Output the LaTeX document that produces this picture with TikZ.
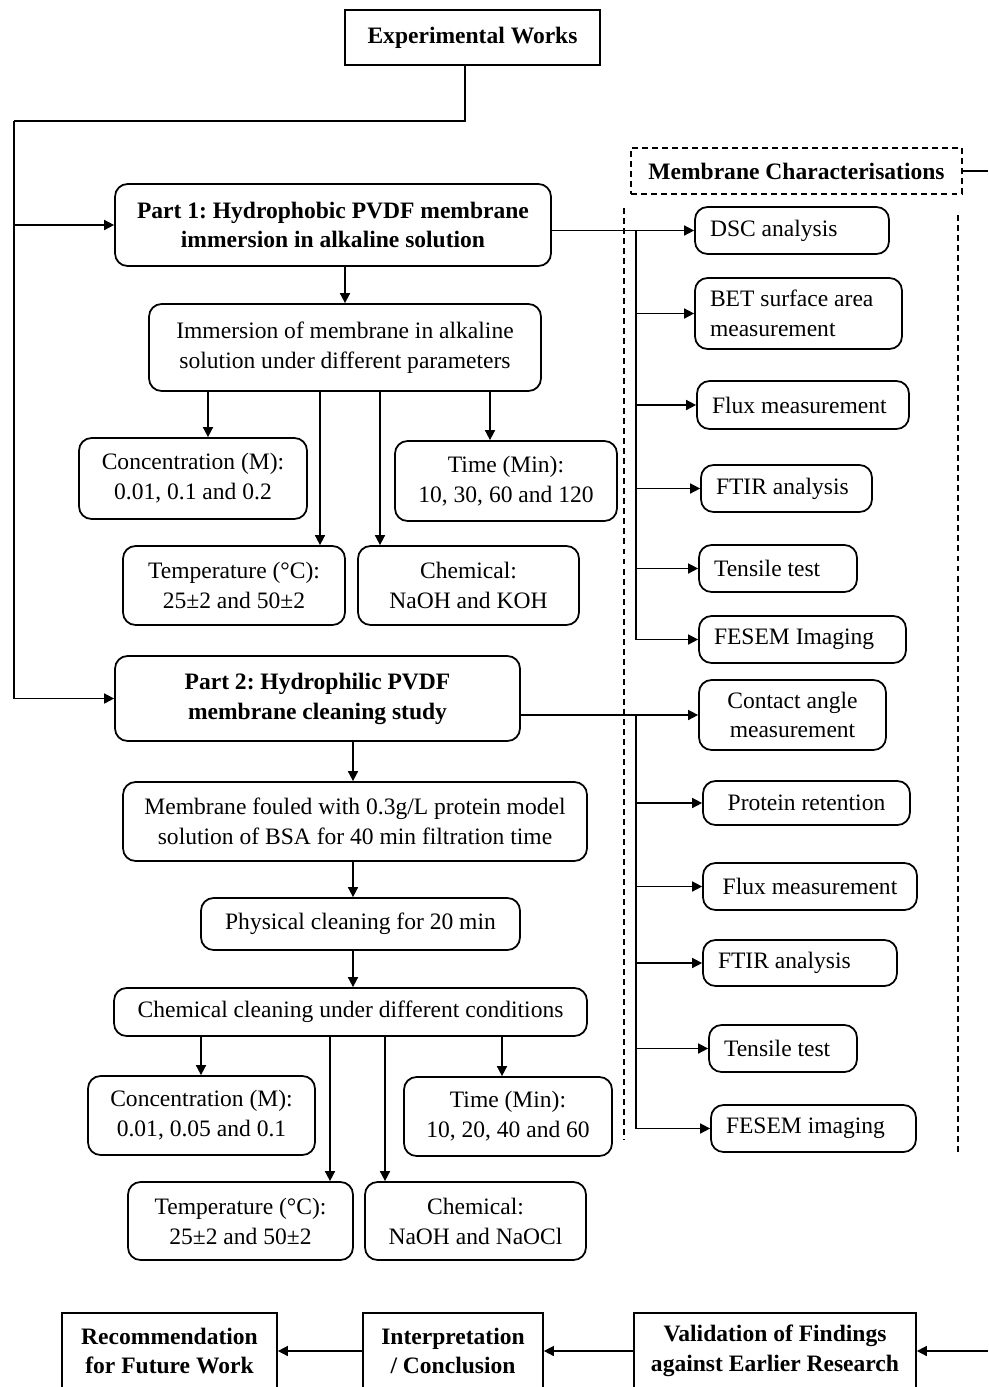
\documentclass[tikz,border=0pt]{standalone}
\usepackage{fontspec}
\setmainfont{Liberation Serif}
\usetikzlibrary{arrows.meta,positioning}
\frenchspacing
\newcommand{\txtsize}{\fontsize{13.4}{17}\selectfont}
\tikzset{
  sz/.style 2 args={minimum width=#1cm,minimum height=#2cm},
  box/.style={draw,line width=1pt,rounded corners=0.25cm,align=center,inner sep=0pt,font=\txtsize},
  boldbox/.style={box,font=\txtsize\bfseries},
  sqbox/.style={draw,line width=1pt,align=center,inner sep=0pt,font=\txtsize\bfseries},
  charbox/.style={box,align=flush left,inner xsep=0.3cm,text width=#1cm},
  dbox/.style={draw,dashed,line width=0.9pt,dash pattern=on 3.4pt off 2.3pt,inner sep=0pt,font=\txtsize\bfseries},
  link/.style={line width=0.9pt},
  arr/.style={link,-{Triangle[length=0.2cm,width=0.2cm]}},
  dashline/.style={line width=0.9pt,dash pattern=on 3.4pt off 2.3pt},
}
\begin{document}
\begin{tikzpicture}[x=0.02cm,y=-0.02cm]
\useasboundingbox (0,0) rectangle (988,1387);
% left column
\node[sqbox,sz={5.1}{1.1}] (exp) at (472.5,37.5) {Experimental Works};
\node[boldbox,sz={8.72}{1.64}] (part1) at (333,225) {Part 1: Hydrophobic PVDF membrane\\immersion in alkaline solution};
\node[box,sz={7.84}{1.74}] (immer) at (345,347.5) {Immersion of membrane in alkaline\\solution under different parameters};
\node[box,sz={4.56}{1.62}] (conc1) at (193,478.5) {Concentration (M):\\0.01, 0.1 and 0.2};
\node[box,sz={4.44}{1.6}] (time1) at (506,481) {Time (Min):\\10, 30, 60 and 120};
\node[box,sz={4.44}{1.58}] (temp1) at (234,585.5) {Temperature (°C):\\25±2 and 50±2};
\node[box,sz={4.42}{1.58}] (chem1) at (468.5,585.5) {Chemical:\\NaOH and KOH};
\node[boldbox,sz={8.1}{1.7}] (part2) at (317.5,698.5) {Part 2: Hydrophilic PVDF\\membrane cleaning study};
\node[box,sz={9.28}{1.58}] (foul) at (355,821.5) {Membrane fouled with 0.3g/L protein model\\solution of BSA for 40 min filtration time};
\node[box,sz={6.38}{1.04}] (phys) at (360.5,924) {Physical cleaning for 20 min};
\node[box,sz={9.46}{0.96}] (chemcl) at (350.5,1012) {Chemical cleaning under different conditions};
\node[box,sz={4.54}{1.58}] (conc2) at (201.5,1115.5) {Concentration (M):\\0.01, 0.05 and 0.1};
\node[box,sz={4.16}{1.58}] (time2) at (508,1116.5) {Time (Min):\\10, 20, 40 and 60};
\node[box,sz={4.5}{1.56}] (temp2) at (240.5,1221) {Temperature (°C):\\25±2 and 50±2};
\node[box,sz={4.42}{1.56}] (chem2) at (475.5,1221) {Chemical:\\NaOH and NaOCl};
% characterisation column
\node[dbox,sz={6.62}{0.92}] (mc) at (796.5,171) {Membrane Characterisations};
\node[charbox=3.28,minimum height=0.94cm] (dsc) at (792,230.5) {DSC analysis};
\node[charbox=3.54,minimum height=1.42cm] (bet) at (798.5,313.5) {BET surface area\\measurement};
\node[charbox=3.64,minimum height=0.96cm] (flux1) at (803,405) {Flux measurement};
\node[charbox=2.82,minimum height=0.94cm] (ftir1) at (786.5,488.5) {FTIR analysis};
\node[charbox=2.56,minimum height=0.94cm] (tens1) at (778,568.5) {Tensile test};
\node[charbox=3.54,minimum height=0.94cm] (fesem1) at (802.5,639.5) {FESEM Imaging};
\node[box,sz={3.74}{1.4}] (contact) at (792.5,715) {Contact angle\\measurement};
\node[box,sz={4.14}{0.88}] (prot) at (806.5,803) {Protein retention};
\node[box,sz={4.28}{0.94}] (flux2) at (810,886.5) {Flux measurement};
\node[charbox=3.28,minimum height=0.92cm] (ftir2) at (800,963) {FTIR analysis};
\node[charbox=2.36,minimum height=0.94cm] (tens2) at (783,1048.5) {Tensile test};
\node[charbox=3.5,minimum height=0.94cm] (fesem2) at (813.5,1128.5) {FESEM imaging};
% bottom row
\node[sqbox,sz={4.3}{1.52}] (rec) at (169.5,1351) {Recommendation\\for Future Work};
\node[sqbox,sz={3.6}{1.52}] (interp) at (453,1351) {Interpretation\\/ Conclusion};
\node[sqbox,sz={5.64}{1.52}] (valid) at (775,1351) {Validation of Findings\\against Earlier Research};

\coordinate (lt) at (14,121);
\coordinate (t) at (636,0);
\coordinate (mcout) at (988,171);
\coordinate (vin) at (988,1351);
\draw[link] (exp.south -| 465,0) |- (lt);
\draw[arr] (lt) |- (part1.west);
\draw[arr] (lt) |- (part2.west);
\draw[arr] (part1.south -| immer.north) -- (immer.north);
\foreach \x/\n in {208/conc1,320/temp1,380/chem1,490/time1}
  \draw[arr] (immer.south -| \x,0) -- (\n.north -| \x,0);
\draw[arr] (part2.south -| 353,0) -- (foul.north -| 353,0);
\draw[arr] (foul.south -| 353,0) -- (phys.north -| 353,0);
\draw[arr] (phys.south -| 353,0) -- (chemcl.north -| 353,0);
\foreach \x/\n in {201/conc2,330/temp2,385/chem2,502/time2}
  \draw[arr] (chemcl.south -| \x,0) -- (\n.north -| \x,0);
\draw[arr] (part1.east |- dsc.west) -- (dsc.west);
\draw[arr] (t |- dsc.west) |- (fesem1.west);
\foreach \n in {bet,flux1,ftir1,tens1}
  \draw[arr] (t |- \n.west) -- (\n.west);
\draw[arr] (part2.east |- contact.west) -- (contact.west);
\draw[arr] (t |- contact.west) |- (fesem2.west);
\foreach \n in {prot,flux2,ftir2,tens2}
  \draw[arr] (t |- \n.west) -- (\n.west);
\draw[link] (mc.east) -- (mcout);
\draw[dashline] (624,208) -- (624,1140);
\draw[dashline] (958,215) -- (958,1155);
\draw[arr] (vin) -- (valid.east);
\draw[arr] (valid.west) -- (interp.east);
\draw[arr] (interp.west) -- (rec.east);
\end{tikzpicture}
\end{document}
